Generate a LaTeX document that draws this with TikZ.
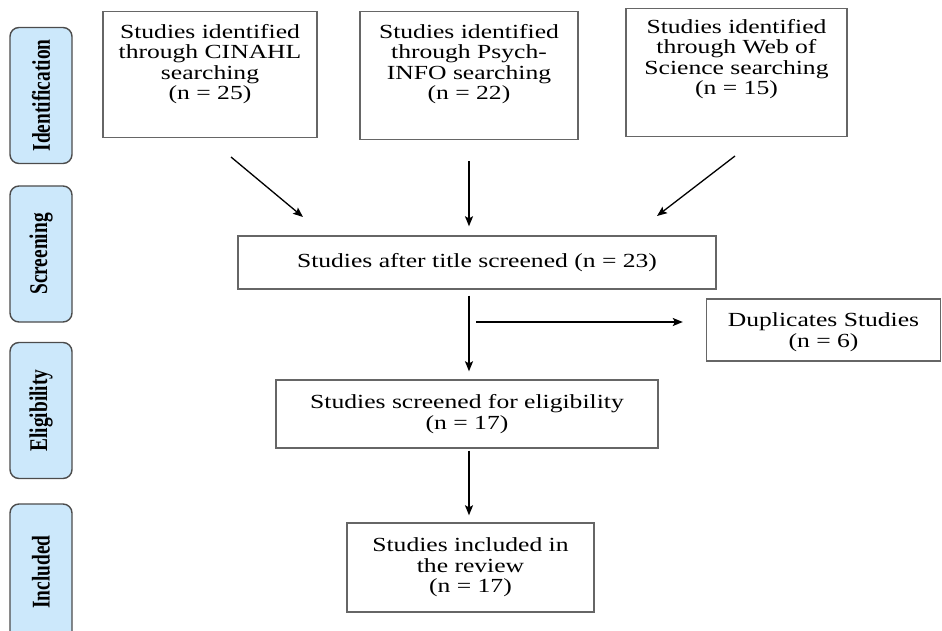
\documentclass[tikz,border=0pt]{standalone}
\usepackage{fontspec}
\setmainfont{Liberation Serif}[FakeStretch=1.28]
\newfontfamily\tabfont{Liberation Serif}[FakeStretch=0.76]
\usetikzlibrary{arrows.meta}
\definecolor{tabblue}{HTML}{CCE8FB}

\tikzset{
  box/.style={draw=black!60, line width=1.4pt, align=center, inner sep=4pt,
    font=\fontsize{20}{20.5}\selectfont},
  % tall search boxes: last baseline fixed, lines above hang up into the box
  srch/.style={box, anchor=north, minimum width=#1, text height=84pt},
  tab/.style={draw=black!70, line width=1.4pt, fill=tabblue, rounded corners=9pt,
    rotate=90, minimum width=136pt, minimum height=62pt,
    font=\tabfont\bfseries\fontsize{25.5}{27}\selectfont},
  arr/.style={line width=1.3pt, -{Stealth[length=10pt,width=8pt,inset=2pt]}}
}

\begin{document}
\begin{tikzpicture}[x=1pt,y=-1pt]
  \useasboundingbox (0,0) rectangle (942,631);
  \clip (0,0) rectangle (942,631);
  % stage tabs on the left
  \node[tab] (tident) at (41,95.5) {Identification};
  \node[tab] (tscreen) at (41,254) {Screening};
  \node[tab] (telig) at (41,410.5) {Eligibility};
  \node[tab] (tincl) at (41,572) {Included};
  % database searches
  \node[srch=214pt, text depth=34pt] (cinahl) at (210,11)
    {Studies identified\\through CINAHL\\searching\\(n = 25)};
  \node[srch=218pt, text depth=36pt] (psych) at (469,11)
    {Studies identified\\through Psych-\\INFO searching\\(n = 22)};
  \node[srch=221pt, text depth=38pt, text height=82pt] (wos) at (736.5,8)
    {Studies identified\\through Web of\\Science searching\\(n = 15)};
  % screening and after
  \node[box, minimum width=478pt, minimum height=53pt] (title) at (477,262.5)
    {Studies after title screened (n = 23)};
  \node[box, minimum width=234pt, minimum height=62pt, text depth=0.3pt] (dup) at (823.5,330)
    {Duplicates Studies\\(n = 6)};
  \node[box, minimum width=382pt, minimum height=68pt] (elig) at (467,414)
    {Studies screened for eligibility\\(n = 17)};
  \node[box, minimum width=247pt, minimum height=89pt] (incl) at (470.5,567.5)
    {Studies included in\\the review\\(n = 17)};
  % free arrow ends
  \coordinate (c1) at (231,157);
  \coordinate (c2) at (303,217);
  \coordinate (w1) at (735,156);
  \coordinate (w2) at (657,216);
  \coordinate (split) at (476,322);
  % arrows
  \draw[arr] (c1) -- (c2);
  \draw[arr] (w1) -- (w2);
  \draw[arr, shorten <=21pt, shorten >=9pt] (psych.south) -- (psych.south |- title.north);
  \draw[arr, shorten <=6pt, shorten >=8pt] (psych.south |- title.south) -- (psych.south |- elig.north);
  \draw[arr, shorten >=23pt] (split) -- (split -| dup.west);
  \draw[arr, shorten <=2pt, shorten >=7pt] (psych.south |- elig.south) -- (psych.south |- incl.north);
\end{tikzpicture}
\end{document}
